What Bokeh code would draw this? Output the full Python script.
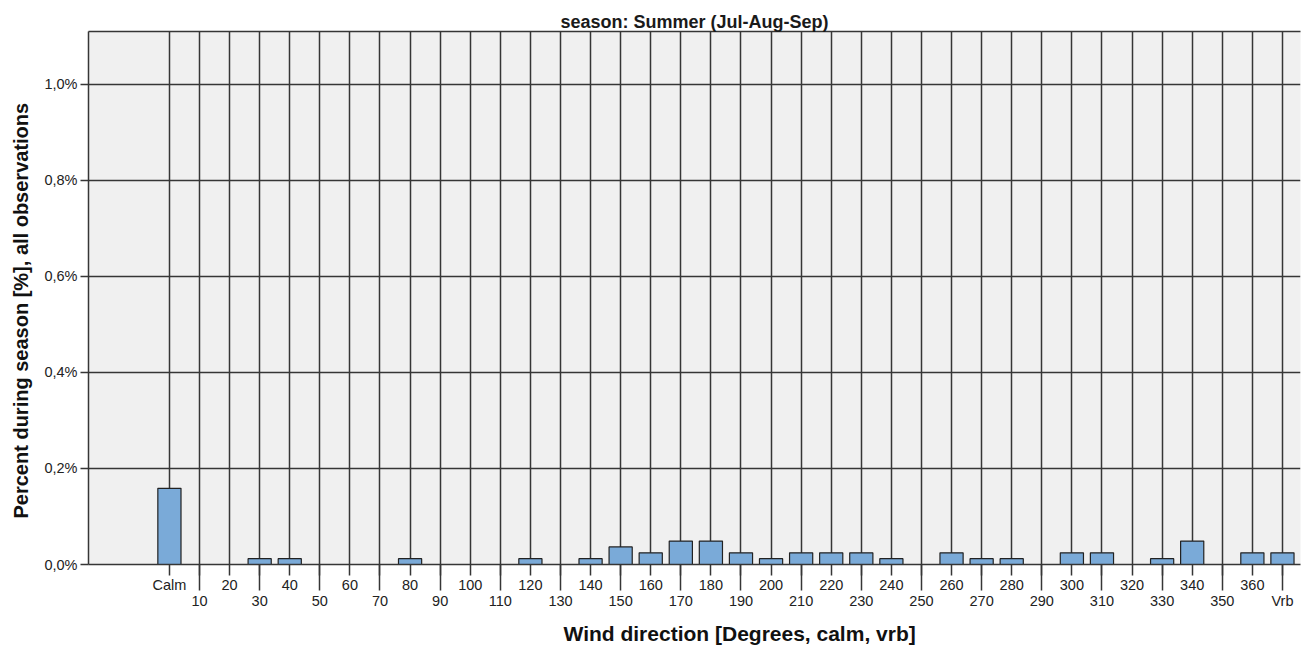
from bokeh.plotting import figure
from bokeh.models import Range1d, FixedTicker, LinearAxis, Title, ColumnDataSource
from bokeh.embed import file_html
from bokeh.resources import INLINE

# ---- data ----
categories = ["Calm", "10", "20", "30", "40", "50", "60", "70", "80", "90",
              "100", "110", "120", "130", "140", "150", "160", "170", "180", "190",
              "200", "210", "220", "230", "240", "250", "260", "270", "280", "290",
              "300", "310", "320", "330", "340", "350", "360", "Vrb"]
percent = [0.1586, 0.0, 0.0, 0.0122, 0.0122, 0.0, 0.0, 0.0, 0.0122, 0.0,
           0.0, 0.0, 0.0122, 0.0, 0.0122, 0.0366, 0.0244, 0.0488, 0.0488, 0.0244,
           0.0122, 0.0244, 0.0244, 0.0244, 0.0122, 0.0, 0.0244, 0.0122, 0.0122, 0.0,
           0.0244, 0.0244, 0.0, 0.0122, 0.0488, 0.0, 0.0244, 0.0244]
y_ticks = [0.0, 0.2, 0.4, 0.6, 0.8, 1.0]
y_tick_labels = ["0,0%", "0,2%", "0,4%", "0,6%", "0,8%", "1,0%"]

title_text = "season: Summer (Jul-Aug-Sep)"
x_title = "Wind direction [Degrees, calm, vrb]"
y_title = "Percent during season [%], all observations"

FONT = "Liberation Sans"
DARK = "#363636"
LW = 1.5

pos = list(range(len(categories)))
src = ColumnDataSource(dict(x=pos, top=percent, cat=categories))

p = figure(width=1311, height=651,
           x_range=Range1d(-2.69, 37.6), y_range=Range1d(0, 1.1104),
           output_backend="svg", toolbar_location=None,
           min_border_left=88, min_border_right=11, min_border_top=31, min_border_bottom=0,
           background_fill_color="#f0f0f0", border_fill_color="white",
           outline_line_color=None)

# title
p.title.text = title_text
p.title.align = "center"
p.title.text_font = FONT
p.title.text_font_size = "18px"
p.title.text_font_style = "bold"
p.title.text_color = "#1a1a1a"
p.title.standoff = 0

# x axis (staggered labels: odd categories on a second line, with longer ticks)
xa = p.xaxis[0]
xa.ticker = FixedTicker(ticks=pos, minor_ticks=pos[1::2])
xa.major_label_overrides = {i: (c if i % 2 == 0 else "\n" + c) for i, c in enumerate(categories)}
xa.major_tick_out = 11
xa.major_tick_in = 0
xa.minor_tick_out = 26
xa.minor_tick_in = 0
xa.major_label_standoff = -14
xa.major_label_text_font = FONT
xa.major_label_text_font_size = "14.5px"
xa.major_label_text_line_height = 1.05
xa.major_label_text_color = "#222222"
xa.axis_line_color = DARK
xa.axis_line_width = LW
xa.major_tick_line_color = DARK
xa.major_tick_line_width = LW
xa.minor_tick_line_color = DARK
xa.minor_tick_line_width = LW

# y axis
ya = p.yaxis[0]
ya.ticker = FixedTicker(ticks=y_ticks)
ya.major_label_overrides = {t: l for t, l in zip(y_ticks, y_tick_labels)}
ya.major_tick_out = 8
ya.major_tick_in = 0
ya.minor_tick_out = 0
ya.minor_tick_in = 0
ya.major_label_standoff = 3
ya.major_label_text_font = FONT
ya.major_label_text_font_size = "14.5px"
ya.major_label_text_color = "#222222"
ya.axis_line_color = DARK
ya.axis_line_width = LW
ya.major_tick_line_color = DARK
ya.major_tick_line_width = LW

# grids
p.xgrid.ticker = FixedTicker(ticks=pos)
p.ygrid.ticker = FixedTicker(ticks=y_ticks)
for g in (p.xgrid, p.ygrid):
    g.grid_line_color = DARK
    g.grid_line_width = LW

# top border line
top_axis = LinearAxis(ticker=FixedTicker(ticks=[]), major_tick_out=0, major_tick_in=0,
                      minor_tick_out=0, minor_tick_in=0, major_label_standoff=0,
                      axis_line_color=DARK, axis_line_width=LW)
p.add_layout(top_axis, "above")

# axis titles
p.add_layout(Title(text=y_title, align="left", offset=46, vertical_align="top",
                   text_font=FONT, text_font_size="20px", text_font_style="bold",
                   text_color="#111111", standoff=16), "left")
p.add_layout(Title(text=x_title, align="left", offset=475, text_font=FONT,
                   text_font_size="21px", text_font_style="bold", text_color="#111111",
                   standoff=14), "below")

# bars
p.vbar(x="x", top="top", bottom=0, width=0.77, source=src,
       fill_color="#7aaad8", line_color="#222222", line_width=1.2)

open("out.html", "w").write(file_html(p, INLINE))
